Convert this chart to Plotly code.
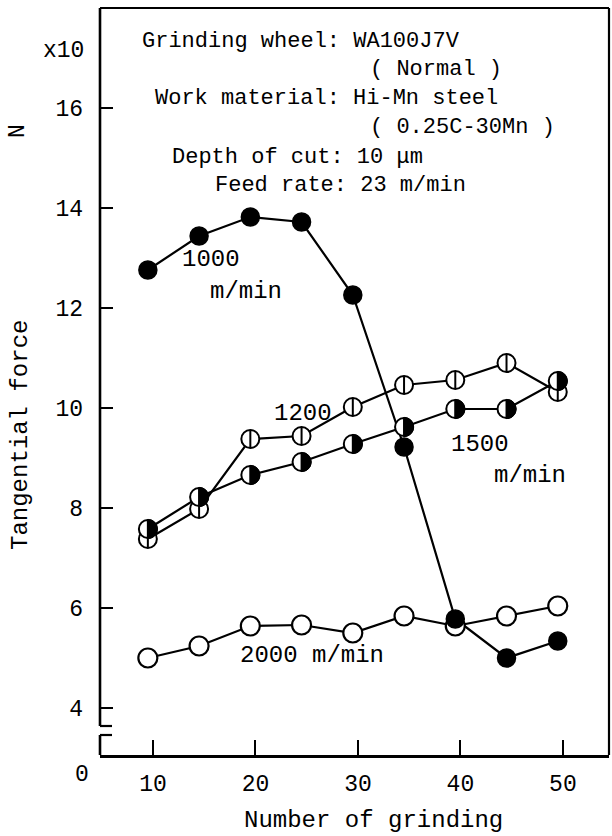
import plotly.graph_objects as go

# ---------------- data ----------------
grinds = [9.5, 14.5, 19.5, 24.5, 29.5, 34.5, 39.5, 44.5, 49.5]
force_1000 = [12.76, 13.44, 13.82, 13.72, 12.26, 9.22, 5.78, 5.00, 5.34]
force_1200 = [7.38, 7.98, 9.38, 9.44, 10.02, 10.46, 10.56, 10.90, 10.32]
force_1500 = [7.58, 8.22, 8.66, 8.92, 9.28, 9.62, 9.98, 9.98, 10.54]
force_2000 = [5.00, 5.24, 5.64, 5.66, 5.50, 5.84, 5.64, 5.84, 6.04]

x_ticks = [10, 20, 30, 40, 50]
y_ticks = [4, 6, 8, 10, 12, 14, 16]

header_lines = [
    ("Grinding wheel: WA100J7V", 8.73, 17.34),
    ("( Normal )", 30.95, 16.78),
    ("Work material: Hi-Mn steel", 10.0, 16.20),
    ("( 0.25C-30Mn )", 30.95, 15.62),
    ("Depth of cut: 10 μm", 11.66, 15.02),
    ("Feed rate: 23 m/min", 15.85, 14.46),
]
series_labels = [
    ("1000", 12.65, 12.98),
    ("m/min", 15.4, 12.34),
    ("1200", 21.65, 9.9),
    ("1500", 38.9, 9.28),
    ("m/min", 43.1, 8.66),
    ("2000 m/min", 18.3, 5.06),
]

X_RANGE = [4.83, 54.5]
Y_RANGE = [3.06, 18.0]
BREAK_LOW, BREAK_HIGH = 3.46, 3.64

FONT = "Liberation Mono"
BLACK = "black"

fig = go.Figure()

# connecting lines
for ys in (force_1000, force_1200, force_1500, force_2000):
    fig.add_trace(go.Scatter(x=grinds, y=ys, mode="lines",
                             line=dict(color=BLACK, width=2.2),
                             showlegend=False, hoverinfo="skip"))

# 2000: open circles
fig.add_trace(go.Scatter(x=grinds, y=force_2000, mode="markers",
                         marker=dict(symbol="circle", size=19, color="white",
                                     line=dict(color=BLACK, width=2.2)),
                         showlegend=False))
# 1000: filled circles
fig.add_trace(go.Scatter(x=grinds, y=force_1000, mode="markers",
                         marker=dict(symbol="circle", size=18, color=BLACK,
                                     line=dict(color=BLACK, width=1.5)),
                         showlegend=False))
# 1200: circle with vertical bar
fig.add_trace(go.Scatter(x=grinds, y=force_1200, mode="markers",
                         marker=dict(symbol="circle", size=18, color="white",
                                     line=dict(color=BLACK, width=2)),
                         showlegend=False))
fig.add_trace(go.Scatter(x=grinds, y=force_1200, mode="markers",
                         marker=dict(symbol="line-ns", size=13,
                                     line=dict(color=BLACK, width=2)),
                         showlegend=False))
# 1500: half-filled circles (outline from marker, right half as shape)
fig.add_trace(go.Scatter(x=grinds, y=force_1500, mode="markers",
                         marker=dict(symbol="circle", size=18, color="white",
                                     line=dict(color=BLACK, width=2)),
                         showlegend=False))

r = 9.6
k = 0.5523 * r
half_path = (f"M 0,{r} C {k},{r} {r},{k} {r},0 "
             f"C {r},{-k} {k},{-r} 0,{-r} Z")
shapes = []
for gx, gy in zip(grinds, force_1500):
    shapes.append(dict(type="path", xref="x", yref="y",
                       xsizemode="pixel", ysizemode="pixel",
                       xanchor=gx, yanchor=gy, path=half_path,
                       fillcolor=BLACK, line=dict(color=BLACK, width=1),
                       layer="above"))
    shapes.append(dict(type="line", xref="x", yref="y",
                       xsizemode="pixel", ysizemode="pixel",
                       xanchor=gx, yanchor=gy, x0=0, x1=0, y0=-9.5, y1=9.5,
                       line=dict(color=BLACK, width=2), layer="above"))

AX_W = 2.6
# left axis with break
shapes += [
    dict(type="line", xref="paper", yref="y", x0=0, x1=0,
         y0=BREAK_HIGH, y1=Y_RANGE[1], line=dict(color=BLACK, width=AX_W)),
    dict(type="line", xref="paper", yref="y", x0=0, x1=0,
         y0=Y_RANGE[0], y1=BREAK_LOW, line=dict(color=BLACK, width=AX_W)),
    dict(type="line", xref="x", yref="y", xsizemode="pixel", xanchor=X_RANGE[0],
         x0=-5, x1=12, y0=BREAK_HIGH, y1=BREAK_HIGH,
         line=dict(color=BLACK, width=2.2)),
    dict(type="line", xref="x", yref="y", xsizemode="pixel", xanchor=X_RANGE[0],
         x0=-5, x1=12, y0=BREAK_LOW, y1=BREAK_LOW,
         line=dict(color=BLACK, width=2.2)),
    # top and right frame
    dict(type="line", xref="paper", yref="paper", x0=0, x1=1, y0=1, y1=1,
         line=dict(color=BLACK, width=2.2)),
    dict(type="line", xref="paper", yref="paper", x0=1, x1=1, y0=0, y1=1,
         line=dict(color=BLACK, width=2.2)),
]

annotations = []
for txt, ax, ay in header_lines:
    annotations.append(dict(text=txt, x=ax, y=ay, xref="x", yref="y",
                            xanchor="left", yanchor="middle", showarrow=False,
                            font=dict(family=FONT, size=22, color=BLACK)))
for txt, ax, ay in series_labels:
    annotations.append(dict(text=txt, x=ax, y=ay, xref="x", yref="y",
                            xanchor="left", yanchor="middle", showarrow=False,
                            font=dict(family=FONT, size=24, color=BLACK)))

# axis texts
annotations += [
    dict(text="x10", x=63, y=51, showarrow=False,
         font=dict(family=FONT, size=23, color=BLACK)),
    dict(text="N", x=18, y=131, textangle=-90, showarrow=False,
         font=dict(family=FONT, size=23, color=BLACK)),
    dict(text="Tangential force", x=20, y=435, textangle=-90, showarrow=False,
         font=dict(family=FONT, size=24, color=BLACK)),
    dict(text="Number of grinding", x=373, y=820, showarrow=False,
         font=dict(family=FONT, size=24, color=BLACK)),
    dict(text="0", x=82, y=775, showarrow=False,
         font=dict(family=FONT, size=23, color=BLACK)),
]
# convert pixel-positioned axis texts into paper coords
PL, PR, PT, PB = 100, 609, 8, 755
for a in annotations[-5:]:
    px, py = a["x"], a["y"]
    a["x"] = (px - PL) / (PR - PL)
    a["y"] = (PB - py) / (PB - PT)
    a["xref"] = "paper"
    a["yref"] = "paper"
    a["xanchor"] = "center"
    a["yanchor"] = "middle"

fig.update_layout(
    width=612, height=836,
    margin=dict(l=PL, r=612 - PR, t=PT, b=836 - PB),
    paper_bgcolor="white", plot_bgcolor="white",
    showlegend=False,
    hovermode=False,
    shapes=shapes,
    annotations=annotations,
    font=dict(family=FONT, color=BLACK),
    xaxis=dict(range=X_RANGE, tickvals=x_ticks, ticktext=[str(v) for v in x_ticks],
               ticks="inside", ticklen=15, tickwidth=2, tickcolor=BLACK,
               showline=True, linecolor=BLACK, linewidth=AX_W,
               showgrid=False, zeroline=False,
               tickfont=dict(family=FONT, size=23, color=BLACK),
               ticklabelstandoff=6),
    yaxis=dict(range=Y_RANGE, tickvals=y_ticks, ticktext=[str(v) for v in y_ticks],
               ticks="inside", ticklen=13, tickwidth=2, tickcolor=BLACK,
               showline=False, showgrid=False, zeroline=False,
               tickfont=dict(family=FONT, size=23, color=BLACK),
               ticklabelstandoff=16),
)

fig.write_html("out.html",
               config={"displayModeBar": False, "staticPlot": True},
               post_script="document.body.style.margin='0';"
                           "document.body.style.overflow='hidden';")
